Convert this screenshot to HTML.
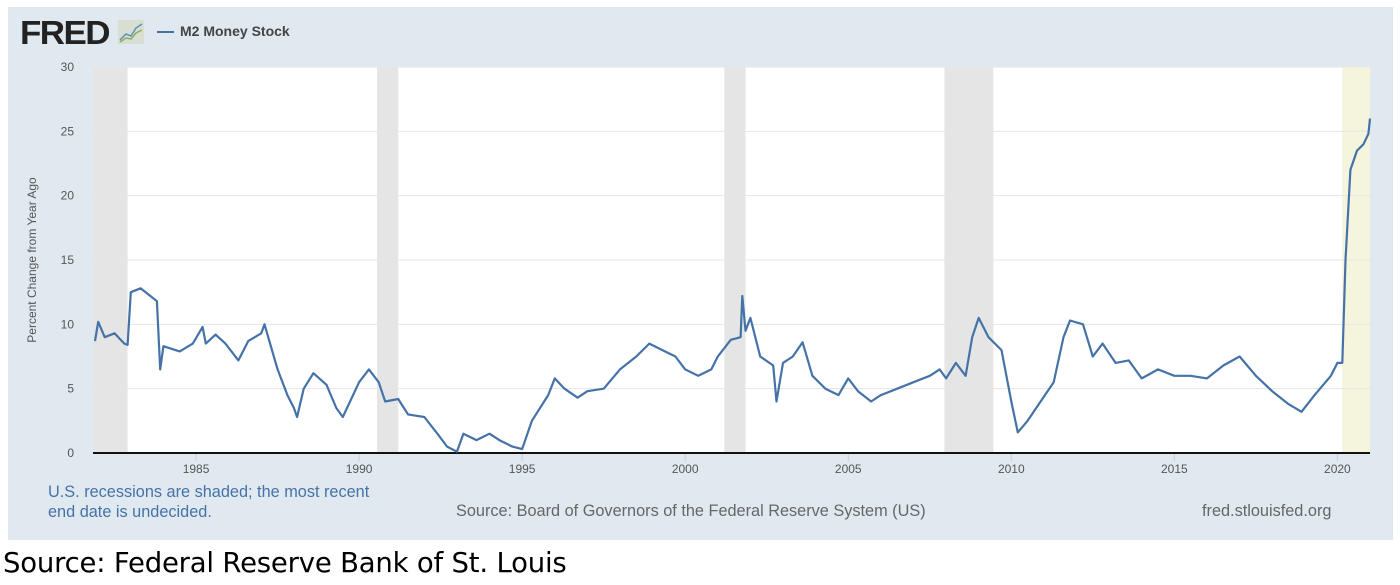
<!DOCTYPE html>
<html><head><meta charset="utf-8"><style>
body{margin:0;width:1400px;height:585px;background:#fff;overflow:hidden;font-family:"Liberation Sans",sans-serif;position:relative}
#panel{position:absolute;left:8px;top:7px;width:1385px;height:533px;background:#e1e9f0}
.t{position:absolute;white-space:nowrap}
</style></head><body>
<div id="panel"></div>
<div class="t" style="left:20px;top:14px;font-size:33px;font-weight:bold;color:#222;letter-spacing:-1.5px;transform:scaleX(1.06);transform-origin:left">FRED</div>
<svg style="position:absolute;left:118px;top:20px" width="26" height="24"><rect width="26" height="24" fill="#d8dfd0"/><polyline points="2,20 8,14 13,16 18,8 24,4" fill="none" stroke="#5a8fc0" stroke-width="1.5"/><polyline points="2,22 8,18 13,19 18,13 24,10" fill="none" stroke="#8ab060" stroke-width="1.5"/></svg>
<div class="t" style="left:157px;top:23px;font-size:14px;font-weight:bold;color:#444"><span style="display:inline-block;width:17px;height:2px;background:#4572a7;vertical-align:middle;margin-right:6px"></span>M2 Money Stock</div>
<svg id="chart" style="position:absolute;left:0;top:0" width="1400" height="585"></svg>
<div class="t" style="left:48px;top:482px;font-size:16.3px;color:#4572a7;line-height:20px">U.S. recessions are shaded; the most recent<br>end date is undecided.</div>
<div class="t" style="left:456px;top:502px;font-size:16.3px;color:#666">Source: Board of Governors of the Federal Reserve System (US)</div>
<div class="t" style="left:1202px;top:502px;font-size:16.3px;color:#666">fred.stlouisfed.org</div>
<div class="t" style="left:3px;top:547px;font-size:27.5px;color:#000;font-family:'DejaVu Sans',sans-serif;letter-spacing:-0.2px">Source: Federal Reserve Bank of St. Louis</div>
<script>
const years=[1981.9,1982.0,1982.2,1982.5,1982.8,1982.9,1983.0,1983.3,1983.6,1983.8,1983.9,1984.0,1984.5,1984.9,1985.2,1985.3,1985.6,1985.9,1986.3,1986.6,1987.0,1987.1,1987.5,1987.8,1988.0,1988.1,1988.3,1988.6,1989.0,1989.3,1989.5,1990.0,1990.3,1990.6,1990.8,1991.2,1991.5,1992.0,1992.4,1992.7,1993.0,1993.2,1993.6,1994.0,1994.3,1994.7,1995.0,1995.3,1995.8,1996.0,1996.3,1996.7,1997.0,1997.5,1998.0,1998.5,1998.9,1999.3,1999.7,2000.0,2000.4,2000.8,2001.0,2001.4,2001.7,2001.75,2001.85,2002.0,2002.3,2002.7,2002.8,2003.0,2003.3,2003.6,2003.9,2004.3,2004.7,2005.0,2005.3,2005.7,2006.0,2006.5,2007.0,2007.5,2007.8,2008.0,2008.3,2008.6,2008.8,2009.0,2009.3,2009.7,2010.0,2010.2,2010.5,2010.9,2011.3,2011.6,2011.8,2012.2,2012.5,2012.8,2013.2,2013.6,2014.0,2014.5,2015.0,2015.5,2016.0,2016.5,2017.0,2017.5,2018.0,2018.5,2018.9,2019.3,2019.8,2020.0,2020.15,2020.25,2020.4,2020.6,2020.8,2020.95,2021.0];
const values=[8.7,10.2,9.0,9.3,8.5,8.4,12.5,12.8,12.2,11.8,6.5,8.3,7.9,8.5,9.8,8.5,9.2,8.5,7.2,8.7,9.3,10.0,6.5,4.5,3.5,2.8,5.0,6.2,5.3,3.5,2.8,5.5,6.5,5.5,4.0,4.2,3.0,2.8,1.5,0.5,0.1,1.5,1.0,1.5,1.0,0.5,0.3,2.5,4.5,5.8,5.0,4.3,4.8,5.0,6.5,7.5,8.5,8.0,7.5,6.5,6.0,6.5,7.5,8.8,9.0,12.2,9.5,10.5,7.5,6.8,4.0,7.0,7.5,8.6,6.0,5.0,4.5,5.8,4.8,4.0,4.5,5.0,5.5,6.0,6.5,5.8,7.0,6.0,9.0,10.5,9.0,8.0,4.0,1.6,2.5,4.0,5.5,9.0,10.3,10.0,7.5,8.5,7.0,7.2,5.8,6.5,6.0,6.0,5.8,6.8,7.5,6.0,4.8,3.8,3.2,4.5,6.0,7.0,7.0,15.0,22.0,23.5,24.0,24.8,26.0];
const yTicks=[0,5,10,15,20,25,30];
const xTicks=[1985,1990,1995,2000,2005,2010,2015,2020];
const recStart=[1981.5,1990.55,2001.2,2007.95,2020.15];
const recEnd=[1982.9,1991.2,2001.85,2009.45,2021.0];
const L=93,R=1370,T=67,B=453,X0=1981.84,X1=2021.0;
const xs=v=>L+(v-X0)/(X1-X0)*(R-L);
const ys=v=>B-v/30*(B-T);
const svg=document.getElementById('chart');const NS='http://www.w3.org/2000/svg';
function mk(t,a){const e=document.createElementNS(NS,t);for(const k in a)e.setAttribute(k,a[k]);svg.appendChild(e);return e;}
let e=mk('rect',{x:L,y:T,width:R-L,height:B-T,fill:'#fff'});


recStart.forEach((s,i)=>{const a=Math.max(s,X0);const r=mk('rect',{x:xs(a),y:T,width:xs(recEnd[i])-xs(a),height:B-T,fill:i==4?'#f5f4dc':'#e5e5e5'});

});
yTicks.forEach(v=>{if(v>0){const g=mk('line',{x1:L,x2:R,y1:ys(v),y2:ys(v),stroke:'#e6e6e6','stroke-width':1});

}
const t=mk('text',{x:74,y:ys(v)+4,'text-anchor':'end','font-size':12,fill:'#555','font-family':'Liberation Sans'});t.textContent=v;

});
xTicks.forEach(v=>{const l=mk('line',{x1:xs(v),x2:xs(v),y1:B,y2:B+8,stroke:'#ccc'});


const t=mk('text',{x:xs(v),y:B+20,'text-anchor':'middle','font-size':12,fill:'#555','font-family':'Liberation Sans'});t.textContent=v;

});
const ax=mk('line',{x1:L,x2:R,y1:B,y2:B,stroke:'#111','stroke-width':2});


const yt=mk('text',{x:36,y:260,transform:'rotate(-90 36 260)','text-anchor':'middle','font-size':12,fill:'#555','font-family':'Liberation Sans'});yt.textContent='Percent Change from Year Ago';


const p=mk('polyline',{points:years.map((y,i)=>xs(y).toFixed(1)+','+ys(values[i]).toFixed(1)).join(' '),fill:'none',stroke:'#4572a7','stroke-width':2.2,'stroke-linejoin':'round'});


</script>
</body></html>
